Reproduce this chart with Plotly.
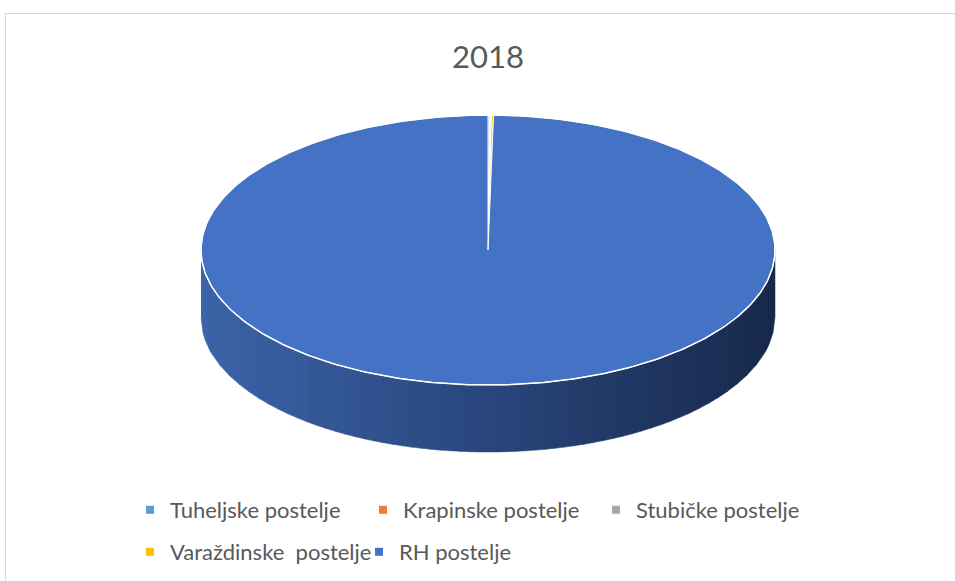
import numpy as np
import plotly.graph_objects as go

# podaci: broj postelja 2018.
kategorije = ["Tuheljske postelje", "Krapinske postelje", "Stubičke postelje",
              "Varaždinske\u00a0 postelje", "RH postelje"]
postelje = [1100, 350, 650, 1300, 1100000]
boje = ["#5B9BD5", "#ED7D31", "#A5A5A5", "#FFC000", "#4472C4"]

W, H = 955, 581
# geometrija "3D" pite (pikseli)
cx, cy = 488, 250
rx, ry = 287, 135
dubina = 67

fig = go.Figure()

# bočna strana pite - gradijent u trakama
n_traka = 60
xs = np.linspace(cx - rx, cx + rx, n_traka + 1)
stops = [(0.0, (60, 99, 168)), (0.5, (40, 70, 124)), (1.0, (23, 40, 74))]


def boja_gradijenta(t):
    for (t0, c0), (t1, c1) in zip(stops[:-1], stops[1:]):
        if t0 <= t <= t1:
            f = (t - t0) / (t1 - t0)
            c = [round(a + (b - a) * f) for a, b in zip(c0, c1)]
            return "rgb(%d,%d,%d)" % tuple(c)
    return "rgb(%d,%d,%d)" % stops[-1][1]


for i in range(n_traka):
    x0, x1 = xs[i], xs[i + 1] + 0.6
    x1 = min(x1, cx + rx)
    xx = np.linspace(x0, x1, 6)
    yt = cy + ry * np.sqrt(np.clip(1 - ((xx - cx) / rx) ** 2, 0, 1))
    yb = yt + dubina
    px = np.concatenate([xx, xx[::-1]])
    py = np.concatenate([yt, yb[::-1]])
    c = boja_gradijenta((i + 0.5) / n_traka)
    fig.add_trace(go.Scatter(x=px, y=py, mode="lines", fill="toself",
                             fillcolor=c, line=dict(color=c, width=0.5),
                             hoverinfo="skip", showlegend=False))

# gornja ploha - isječci (od 12 sati, u smjeru kazaljke)
ukupno = sum(postelje)
kut = 0.0
for ime, v, b in zip(kategorije, postelje, boje):
    k0 = kut
    k1 = kut + 2 * np.pi * v / ukupno
    kut = k1
    t = np.linspace(k0, k1, max(3, int(400 * (k1 - k0) / (2 * np.pi)) + 2))
    px = np.concatenate([[cx], cx + rx * np.sin(t), [cx]])
    py = np.concatenate([[cy], cy - ry * np.cos(t), [cy]])
    fig.add_trace(go.Scatter(x=px, y=py, mode="lines", fill="toself",
                             fillcolor=b, line=dict(color="white", width=1),
                             name=ime, hoverinfo="name", showlegend=False))

# bijeli rub gornje plohe
t = np.linspace(0, 2 * np.pi, 400)
fig.add_trace(go.Scatter(x=cx + rx * np.sin(t), y=cy - ry * np.cos(t), mode="lines",
                         line=dict(color="white", width=1.5),
                         hoverinfo="skip", showlegend=False))

# legenda
for i, (ime, b) in enumerate(zip(kategorije, boje)):
    fig.add_trace(go.Scatter(x=[None], y=[None], mode="markers", name=ime,
                             marker=dict(symbol="square", size=8, color=b),
                             legend="legend" if i < 3 else "legend2"))

fig.add_shape(type="rect", xref="paper", yref="paper",
              x0=5.5 / W, x1=1.01, y0=-0.01, y1=1 - 13.5 / H,
              line=dict(color="#D9D9D9", width=1))

leg = dict(orientation="h", xanchor="left", yanchor="middle",
           font=dict(family="Lato", size=22, color="#595959"),
           bgcolor="rgba(0,0,0,0)", itemwidth=30)

fig.update_layout(
    width=W, height=H,
    paper_bgcolor="white", plot_bgcolor="white",
    margin=dict(l=0, r=0, t=0, b=0),
    title=dict(text="2018", x=488 / W, xanchor="center", y=1 - 57 / H, yanchor="middle",
               font=dict(family="Lato", size=31, color="#595959")),
    xaxis=dict(range=[0, W], visible=False, fixedrange=True),
    yaxis=dict(range=[H, 0], visible=False, fixedrange=True),
    legend=dict(leg, x=130 / W, y=1 - 510 / H, entrywidth=188),
    legend2=dict(leg, x=130 / W, y=1 - 552 / H, entrywidth=184),
    showlegend=True,
)

# bez zadane margine stranice, da slika počne u kutu prozora
fig.write_html("out.html", config={"displayModeBar": False},
               post_script="document.body.style.margin='0';")
